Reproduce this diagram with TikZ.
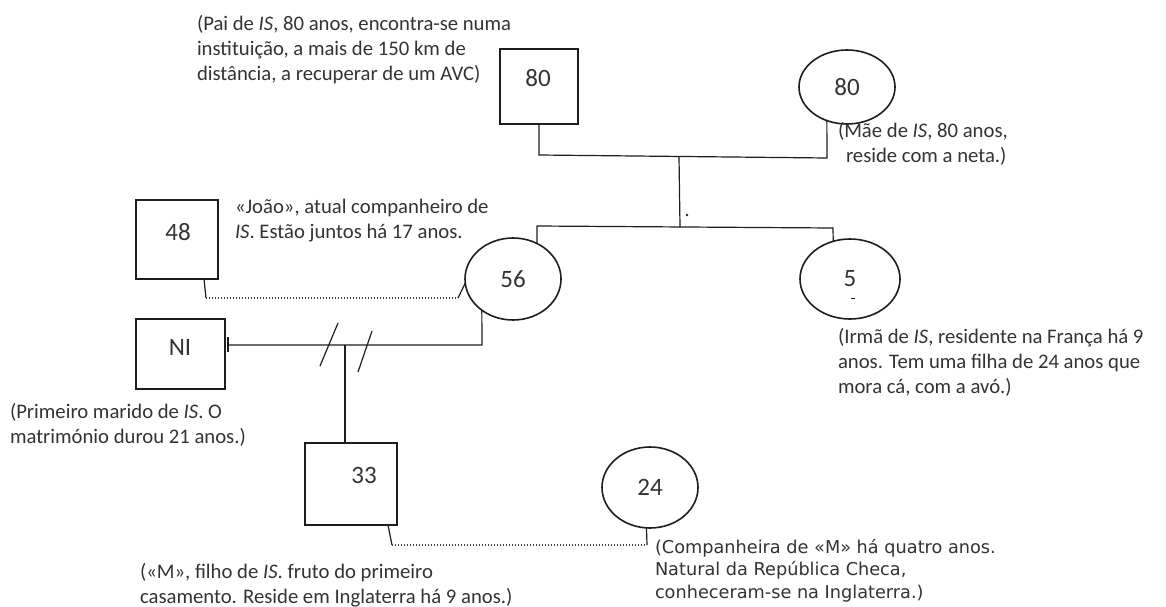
\documentclass[tikz,border=0pt]{standalone}
\usepackage{fontspec}
\setmainfont{Carlito}
\newfontfamily\tahoma{DejaVu Sans}
\usetikzlibrary{shapes.geometric,calc}
\definecolor{txt}{HTML}{333333}
\definecolor{ln}{HTML}{1E1E1E}
\begin{document}
\begin{tikzpicture}[x=1pt,y=-1pt,
  sq/.style={draw=ln,line width=1.8pt,rectangle,inner sep=0pt,outer sep=0pt},
  el/.style={draw=ln,line width=1.6pt,ellipse,inner sep=0pt,outer sep=0pt,minimum width=96pt,minimum height=81pt,font=\fontsize{25}{30}\selectfont,text=txt},
  num/.style={font=\fontsize{25}{30}\selectfont,text=txt,inner sep=0pt},
  note/.style={anchor=north west,inner sep=0pt,outer sep=0pt,align=left,text=txt,font=\fontsize{20.7}{25}\selectfont},
  notetwo/.style={anchor=north west,inner sep=0pt,outer sep=0pt,align=left,text=txt,font=\tahoma\fontsize{17.7}{22.5}\selectfont},
  conn/.style={draw=ln,line width=1.2pt},
  dotln/.style={draw=ln!85,line width=1.1pt,dash pattern=on 1.2pt off 1.8pt}
]
\useasboundingbox[fill=white] (0,0) rectangle (1166,607);

% persons
\node[sq,minimum width=78pt,minimum height=75pt,label={[num,xshift=-1pt,yshift=8.5pt]center:80}] (fa) at (539,86.5) {};
\node[el,minimum width=96pt,minimum height=74pt] (mo) at (847,87) {80};
\node[sq,minimum width=82pt,minimum height=79pt,label={[num,xshift=1pt,yshift=7.5pt]center:48}] (b48) at (177,239.5) {};
\node[el,minimum width=96pt,minimum height=82pt] (e56) at (513,279) {56};
\node[el,minimum width=100pt,minimum height=80pt] (e5) at (850,279) {5};
\node[sq,minimum width=89pt,minimum height=70pt,label={[num,xshift=-0.5pt,yshift=7pt]center:NI}] (bNI) at (180.5,354) {};
\node[sq,minimum width=92pt,minimum height=82pt,label={[num,xshift=13pt,yshift=9pt]center:33}] (b33) at (351,484) {};
\node[el,minimum width=96pt,minimum height=81pt] (e24) at (650,487.5) {24};
\draw[ln,line width=0.8pt] (851,298) -- (855,298);

% parents
\coordinate (pl) at (539,155);
\coordinate (pr) at (827,158);
\draw[conn] (fa.south) -- (pl) -- (pr) -- (mo.239);
\coordinate (sm) at (679,156.5);
\coordinate (sb) at (680,227);
\draw[conn] (sm) -- (sb);
\fill[ln] (687,215) circle (1.3);
% siblings
\coordinate (sl) at (537,226);
\coordinate (sr) at (833,228);
\draw[conn] (e56.56) -- (sl) -- (sr) -- (e5.114);

% current partner (dotted)
\coordinate (j0) at ($(b48.south east)+(-14,0)$);
\coordinate (j1) at (206,298);
\coordinate (j2) at (458,298);
\draw[conn] (j0) -- (j1);
\draw[dotln] (j1) -- (j2);
\draw[conn] (j2) -- (e56.185);

% divorced marriage
\coordinate (dt1) at (228,337);
\coordinate (dt2) at (228,352);
\coordinate (d0) at (228,345);
\coordinate (d1) at (482,345);
\draw[conn] (dt1) -- (dt2);
\draw[conn] (d0) -- (d1) -- (e56.225);
\coordinate (s1a) at (320,366); \coordinate (s1b) at (338,323);
\coordinate (s2a) at (358,372); \coordinate (s2b) at (372,331);
\draw[conn] (s1a) -- (s1b);
\draw[conn] (s2a) -- (s2b);
\coordinate (c0) at (345,345);
\draw[conn] (c0) -- (c0 |- b33.north);

% son's partner (dotted)
\coordinate (k0) at ($(b33.south east)+(-9,0)$);
\coordinate (k1) at (392,545);
\coordinate (k2) at (647,545);
\draw[conn] (k0) -- (k1);
\draw[dotln] (k1) -- (k2);
\draw[conn] (k2) -- (e24.265);

% notes
\node[note] (tpai) at (197,13.5) {\strut(Pai de \textit{IS}, 80 anos, encontra-se numa\\instituição, a mais de 150 km de\\distância, a recuperar de um AVC)};
\node[note] (tmae) at (838,119.5) {\strut(Mãe de \textit{IS}, 80 anos,\\\hspace*{8pt}reside com a neta.)};
\node[note] (tjoao) at (235,195.5) {\strut«João», atual companheiro de\\\textit{IS}. Estão juntos há 17 anos.};
\node[note] (tirma) at (838,325.5) {\strut(Irmã de \textit{IS}, residente na França há 9\\anos. Tem uma filha de 24 anos que\\mora cá, com a avó.)};
\node[note] (tprim) at (10,400.5) {\strut(Primeiro marido de \textit{IS}. O\\matrimónio durou 21 anos.)};
\node[note] (tm) at (140,560.5) {\strut(«M», filho de \textit{IS}. fruto do primeiro\\casamento. Reside em Inglaterra há 9 anos.)};
\node[notetwo] (tcomp) at (655,537.25) {\strut(Companheira de «M» há quatro anos.\\Natural da República Checa,\\conheceram-se na Inglaterra.)};
\end{tikzpicture}
\end{document}
